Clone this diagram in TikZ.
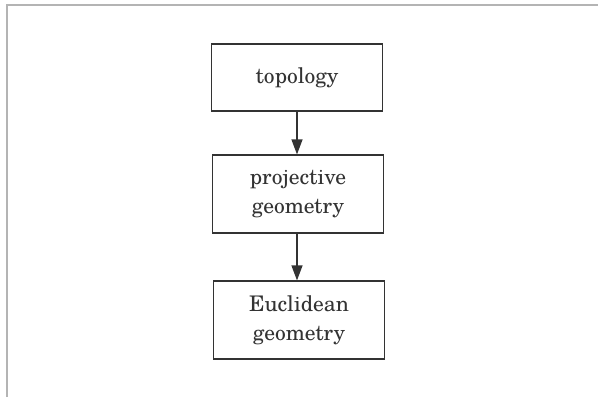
\documentclass[tikz,border=0pt]{standalone}
\usepackage{fontspec}
\setmainfont{TeX Gyre Schola}
\usetikzlibrary{arrows.meta}
\definecolor{framegray}{HTML}{B4B4B4}
\definecolor{ink}{HTML}{333333}
\tikzset{
  box/.style={draw=ink, line width=1.2pt, text=ink, minimum width=171pt, align=center,
    font=\fontsize{21.5pt}{29pt}\selectfont, inner sep=0pt},
  conn/.style={draw=ink, line width=1.2pt, -{Triangle[length=15pt,width=11pt]}},
  frame/.style={draw=framegray, line width=1.2pt}
}
\begin{document}
\begin{tikzpicture}[x=1pt,y=1pt]
\useasboundingbox (0,0) rectangle (598,-397);
\draw[frame] (7,-397) -- (7,-5) -- (598,-5);
\node[box, minimum height=67pt] (top) at (297,-77.5) {topology};
\node[box, minimum height=78pt] (proj) at (298,-194) {projective\\geometry};
\node[box, minimum height=78pt] (eucl) at (299,-320) {Euclidean\\geometry};
\draw[conn] (top.south -| 297,0) -- (proj.north -| 297,0);
\draw[conn] (proj.south -| 297,0) -- (eucl.north -| 297,0);
\end{tikzpicture}
\end{document}
